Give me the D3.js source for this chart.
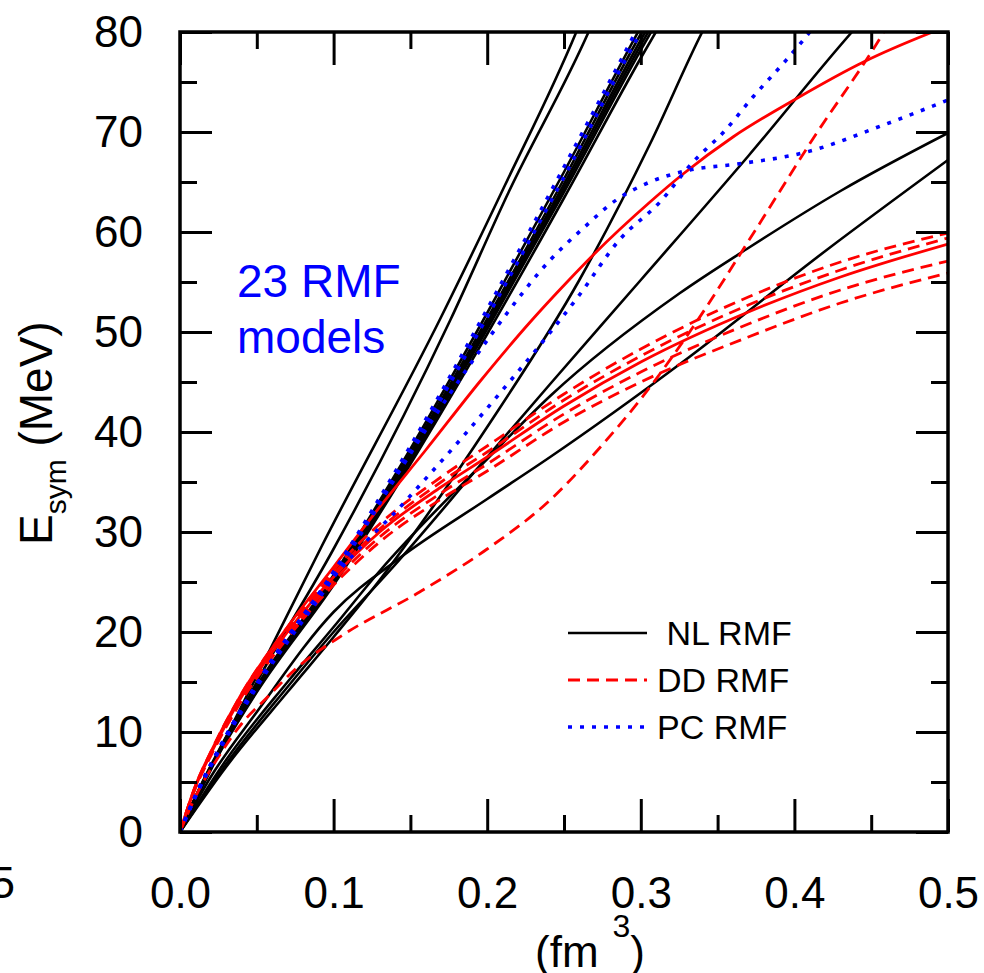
<!DOCTYPE html>
<html lang="en">
<head>
<meta charset="UTF-8">
<title>Esym RMF models</title>
<script src="https://d3js.org/d3.v7.min.js"></script>
<style>
    body { margin: 0; background: #fff; }
    svg text { font-family: "Liberation Sans", Arial, sans-serif; }
    .tick line { stroke: #000; stroke-width: 3; }
    .tick text { font-size: 44px; fill: #000; }
    .nl { fill: none; stroke: #000; stroke-width: 2.6; }
    .dd { fill: none; stroke: #ff0000; stroke-width: 2.8; stroke-dasharray: 12,7; }
    .dds { fill: none; stroke: #ff0000; stroke-width: 2.8; }
    .pc { fill: none; stroke: #0000ff; stroke-width: 3.6; stroke-dasharray: 4,8; }
</style>
</head>
<body>
<svg width="984" height="973"></svg>
<script>
// axis ticks
const xMajor = [0, 0.1, 0.2, 0.3, 0.4, 0.5];
const xMinor = [0.05, 0.15, 0.25, 0.35, 0.45];
const yMajor = [0, 10, 20, 30, 40, 50, 60, 70, 80];
const yMinor = [5, 15, 25, 35, 45, 55, 65, 75];

// NL RMF (black solid)
const nlA1 = [[0,0],[0.03,9.5],[0.05,15.6],[0.092,28.5],[0.17,51.5],[0.211,64.5],[0.258,80],[0.262,81.5]];
const nlA2 = [[0,0],[0.03,9.2],[0.05,15],[0.0996,28.2],[0.176,51.2],[0.214,64],[0.266,80],[0.27,81.4]];
const nlB1 = [[0,0],[0.01,3.5],[0.025,8.1],[0.05,14.6],[0.1,25.7],[0.15,38.3],[0.2,51.9],[0.25,66],[0.3,80.5],[0.32,86]];
const nlB2 = [[0,0],[0.01,3.5],[0.025,8],[0.05,14.4],[0.1,25.4],[0.15,37.9],[0.2,51.3],[0.25,65.3],[0.3,79.8],[0.32,85]];
const nlB3 = [[0,0],[0.01,3.4],[0.025,7.9],[0.05,14.3],[0.1,25.2],[0.15,37.6],[0.2,51],[0.25,64.8],[0.3,79.2],[0.32,84.5]];
const nlB4 = [[0,0],[0.01,3.4],[0.025,7.9],[0.05,14.2],[0.1,25],[0.15,37.3],[0.2,50.6],[0.25,64.4],[0.3,78.7],[0.32,84]];
const nlB5 = [[0,0],[0.01,3.4],[0.025,7.8],[0.05,14.1],[0.1,24.9],[0.15,37.1],[0.2,50.3],[0.25,64],[0.3,78.2],[0.32,83.5]];
const nlB6 = [[0,0],[0.01,3.4],[0.025,7.7],[0.05,14],[0.1,24.7],[0.15,36.8],[0.2,49.8],[0.25,63.4],[0.3,77.4],[0.32,82.7]];
const nlC = [[0,0],[0.03,6.5],[0.07,14],[0.1,19.5],[0.13,25.2],[0.16,31.5],[0.2,40.5],[0.26,55.2],[0.306,68.8],[0.34,80],[0.345,81.5]];
const nlD = [[0,0],[0.03,6.8],[0.07,14.5],[0.1,20],[0.137,26.2],[0.2,37.5],[0.241,44.8],[0.3,55.2],[0.37,67.6],[0.4375,80],[0.445,81.3]];
const nlE = [[0,0],[0.03,7.2],[0.07,15],[0.1,20.5],[0.13,26.1],[0.2,37.3],[0.241,43.6],[0.3255,53.9],[0.369,58.3],[0.43,64.1],[0.5,69.9]];
const nlF = [[0,0],[0.02,5.5],[0.05,12],[0.1,22],[0.143,27.4],[0.2,33.3],[0.241,37.5],[0.3255,46.8],[0.421,58.2],[0.5,67.2]];

// DD RMF (red dashed) and the two red solid ones
const ddGrid = [0, 0.01, 0.02, 0.04, 0.07, 0.1, 0.13, 0.17, 0.2, 0.25, 0.3, 0.37, 0.43, 0.5];
const dd1 = [0, 4.6, 8.0, 13.8, 20.5, 26.2, 30.8, 35.5, 38.6, 43.8, 48.3, 53.5, 57.0, 59.9];
const dd2 = [0, 4.5, 7.9, 13.6, 20.2, 25.8, 30.3, 35.0, 38.0, 43.2, 47.6, 52.7, 56.2, 59.4];
const dd3 = [0, 4.4, 7.7, 13.3, 19.7, 25.1, 29.5, 33.9, 36.8, 41.8, 46.0, 50.8, 54.2, 57.1];
const dd4 = [0, 4.4, 7.6, 13.1, 19.4, 24.7, 29.0, 33.3, 36.1, 41.0, 45.0, 49.5, 52.9, 55.9];
const ddSolidLow = [0, 4.5, 7.8, 13.5, 20.0, 25.5, 30.0, 34.5, 37.5, 42.6, 47.0, 52.0, 55.5, 58.8];
const ddSteep = [[0,0],[0.01,3.5],[0.025,7.5],[0.04,10.8],[0.057,13.5],[0.076,16.4],[0.106,19.7],[0.156,24],[0.2,28.3],[0.241,33.2],[0.276,38.9],[0.3,43.3],[0.334,50.5],[0.373,59.8],[0.412,69.3],[0.457,79.7],[0.462,81]];
const ddSolidHigh = [[0,0],[0.01,4.6],[0.02,8.0],[0.04,13.8],[0.07,20.5],[0.1,26.5],[0.13,32.5],[0.16,38.2],[0.195,45],[0.228,51],[0.252,55],[0.269,57.7],[0.306,63],[0.3275,65.8],[0.36,69.5],[0.402,73.4],[0.445,77],[0.49,80],[0.5,80.6]];

// PC RMF (blue dotted)
const pcB1 = [[0,0],[0.01,3.6],[0.025,8.2],[0.05,14.8],[0.1,26],[0.15,38.6],[0.2,52.3],[0.25,66.5],[0.3,81],[0.32,87]];
const pcB2 = [[0,0],[0.01,3.5],[0.025,8],[0.05,14.5],[0.1,25.5],[0.15,38],[0.2,51.5],[0.25,65.5],[0.3,80],[0.32,85.2]];
const pcP1 = [[0,0],[0.01,3.6],[0.025,8.2],[0.05,14.8],[0.1,25.5],[0.122,29.2],[0.139,31.8],[0.158,35],[0.184,39.5],[0.21,44.2],[0.236,49],[0.26,53.7],[0.286,59.2],[0.3125,63],[0.334,67],[0.354,70],[0.373,73.5],[0.393,76.9],[0.41,80],[0.415,81]];
const pcP2 = [[0,0],[0.01,3.6],[0.025,8.2],[0.05,14.8],[0.1,26],[0.13,33],[0.16,40.2],[0.19,47],[0.213,51.9],[0.241,57.2],[0.262,60.3],[0.284,63.2],[0.306,65],[0.332,66.2],[0.363,66.8],[0.408,68],[0.458,70.7],[0.5,73.2]];

const legendItems = ["\u00a0NL RMF", "DD RMF", "PC RMF"];

const svg = d3.select("svg"),
    margin = {top: 32, right: 36, bottom: 141, left: 180},
    width = +svg.attr("width") - margin.left - margin.right,
    height = +svg.attr("height") - margin.top - margin.bottom,
    g = svg.append("g").attr("transform", "translate(" + margin.left + "," + margin.top + ")");

const x = d3.scaleLinear().domain([0, 0.5]).range([0, width]);
const y = d3.scaleLinear().domain([0, 80]).range([height, 0]);

svg.append("defs").append("clipPath").attr("id", "clip")
    .append("rect").attr("width", width).attr("height", height);

const line = d3.line()
    .x(function (d) { return x(d[0]); })
    .y(function (d) { return y(d[1]); })
    .curve(d3.curveMonotoneX);

function onGrid(vals) {
    return vals.map(function (v, i) { return [ddGrid[i], v]; });
}

const plot = g.append("g").attr("clip-path", "url(#clip)");

[nlA1, nlA2, nlB1, nlB2, nlB3, nlB4, nlB5, nlB6, nlC, nlD, nlE, nlF].forEach(function (c) {
    plot.append("path").datum(c).attr("class", "nl").attr("d", line);
});
[dd1, dd2, dd3, dd4].forEach(function (c) {
    plot.append("path").datum(onGrid(c)).attr("class", "dd").attr("d", line);
});
plot.append("path").datum(ddSteep).attr("class", "dd").attr("d", line);
plot.append("path").datum(onGrid(ddSolidLow)).attr("class", "dds").attr("d", line);
plot.append("path").datum(ddSolidHigh).attr("class", "dds").attr("d", line);
[pcB1, pcB2, pcP1, pcP2].forEach(function (c) {
    plot.append("path").datum(c).attr("class", "pc").attr("d", line);
});

// axes, ticks pointing inward
function noLabel() { return ""; }
g.append("g").attr("transform", "translate(0," + height + ")")
    .call(d3.axisBottom(x).tickValues(xMajor).tickSize(-33).tickPadding(45).tickFormat(d3.format(".1f")));
g.append("g").attr("transform", "translate(0," + height + ")")
    .call(d3.axisBottom(x).tickValues(xMinor).tickSize(-17).tickFormat(noLabel));
g.append("g").call(d3.axisTop(x).tickValues(xMajor).tickSize(-33).tickFormat(noLabel));
g.append("g").call(d3.axisTop(x).tickValues(xMinor).tickSize(-17).tickFormat(noLabel));
g.append("g")
    .call(d3.axisLeft(y).tickValues(yMajor).tickSize(-32).tickPadding(37));
g.append("g").call(d3.axisLeft(y).tickValues(yMinor).tickSize(-17).tickFormat(noLabel));
g.append("g").attr("transform", "translate(" + width + ",0)")
    .call(d3.axisRight(y).tickValues(yMajor).tickSize(-32).tickFormat(noLabel));
g.append("g").attr("transform", "translate(" + width + ",0)")
    .call(d3.axisRight(y).tickValues(yMinor).tickSize(-17).tickFormat(noLabel));
g.selectAll(".domain").remove();
g.selectAll(".tick text").attr("dy", function () {
    return d3.select(this).attr("dy") === "0.32em" ? "0.33em" : "0.71em";
});

g.append("rect").attr("width", width).attr("height", height)
    .attr("fill", "none").attr("stroke", "#000").attr("stroke-width", 3.5);

// annotation
g.append("text").attr("x", 57).attr("y", 265).attr("fill", "#0000ff")
    .style("font-size", "46px").text("23 RMF");
g.append("text").attr("x", 57).attr("y", 321).attr("fill", "#0000ff")
    .style("font-size", "46px").text("models");

// legend
const legendClasses = ["nl", "dd", "pc"];
const legend = g.append("g").attr("transform", "translate(388,601)");
legendItems.forEach(function (name, i) {
    legend.append("line").attr("class", legendClasses[i])
        .attr("x1", 0).attr("x2", 79).attr("y1", i * 47).attr("y2", i * 47);
    legend.append("text").attr("x", 89).attr("y", i * 47 + 12)
        .style("font-size", "34px").text(name);
});

// axis titles
const yTitle = svg.append("text")
    .attr("transform", "translate(52,545) rotate(-90)")
    .style("font-size", "46px");
yTitle.append("tspan").text("E");
yTitle.append("tspan").attr("dy", 14).style("font-size", "30px").text("sym");
yTitle.append("tspan").attr("dy", -14).text("\u00a0(MeV)");

const xTitle = svg.append("text").attr("x", 535).attr("y", 967).style("font-size", "44px");
xTitle.append("tspan").text("(fm");
xTitle.append("tspan").attr("dx", 14).attr("dy", -30).style("font-size", "32px").text("3");
xTitle.append("tspan").attr("dy", 30).text(")");

// cut-off label from the neighbouring panel
svg.append("text").attr("x", 15).attr("y", 898).attr("text-anchor", "end")
    .style("font-size", "44px").text("0.5");
</script>
</body>
</html>
